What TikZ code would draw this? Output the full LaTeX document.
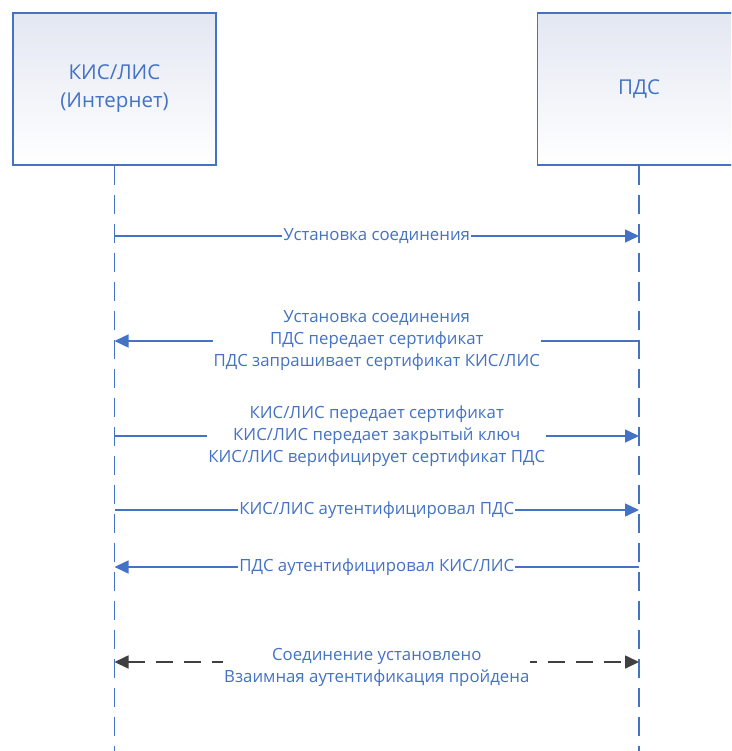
\documentclass[tikz,border=0pt]{standalone}
\usepackage{fontspec}
\setmainfont{Open Sans}
\newfontfamily\partyfont{Open Sans}
\usetikzlibrary{arrows.meta}
\definecolor{seqblue}{HTML}{4472C4}
\definecolor{boxtop}{HTML}{E3E7F2}
\definecolor{seqgray}{HTML}{404040}

\begin{document}
\begin{tikzpicture}[x=1pt,y=-1pt,
    party/.style={draw=seqblue,line width=1.3pt,top color=boxtop,bottom color=white,
      minimum width=203pt,minimum height=152pt,text=seqblue,align=center,
      font=\partyfont\fontsize{20.5}{28}\selectfont},
    lifeline/.style={seqblue,line width=1.6pt,dash pattern=on 19pt off 10pt},
    msg/.style={seqblue,line width=1.5pt,-{Triangle[length=14pt,width=13pt]}},
    done/.style={seqgray,line width=1.7pt,dash pattern=on 17pt off 11pt,
      {Triangle[length=14pt,width=13pt]}-{Triangle[length=14pt,width=13pt]}},
    lbl/.style={fill=white,text=seqblue,align=center,inner sep=1pt,
      font=\fontsize{16.8}{22}\selectfont}]
  \clip (0,0) rectangle (731,751);
  \fill[white] (0,0) rectangle (731,751);
  % participants
  \node[party] (kis) at (114.5,89) {КИС/ЛИС\\(Интернет)};
  \node[party] (pds) at (639,89) {ПДС};
  \draw[lifeline] (kis.south) -- (kis.south |- 0,751);
  \draw[lifeline] (pds.south) -- (pds.south |- 0,751);
  % message rows
  \foreach \n/\y in {1/236,2/341,3/436,4/510,5/567,6/662}{
    \coordinate (k\n) at (kis.south |- 0,\y);
    \coordinate (p\n) at (pds.south |- 0,\y);
  }
  \draw[msg] (k1) -- (p1) node[lbl,midway] {Установка соединения};
  \draw[msg] (p2) -- (k2) node[lbl,midway] {Установка соединения\\ПДС передает сертификат\\ПДС запрашивает сертификат КИС/ЛИС};
  \draw[msg] (k3) -- (p3) node[lbl,midway] {КИС/ЛИС передает сертификат\\КИС/ЛИС передает закрытый ключ\\КИС/ЛИС верифицирует сертификат ПДС};
  \draw[msg] (k4) -- (p4) node[lbl,midway] {КИС/ЛИС аутентифицировал ПДС};
  \draw[msg] (p5) -- (k5) node[lbl,midway] {ПДС аутентифицировал КИС/ЛИС};
  \draw[done] (k6) -- (p6) node[lbl,midway,yshift=-5pt] {Соединение установлено\\Взаимная аутентификация пройдена};
\end{tikzpicture}
\end{document}
